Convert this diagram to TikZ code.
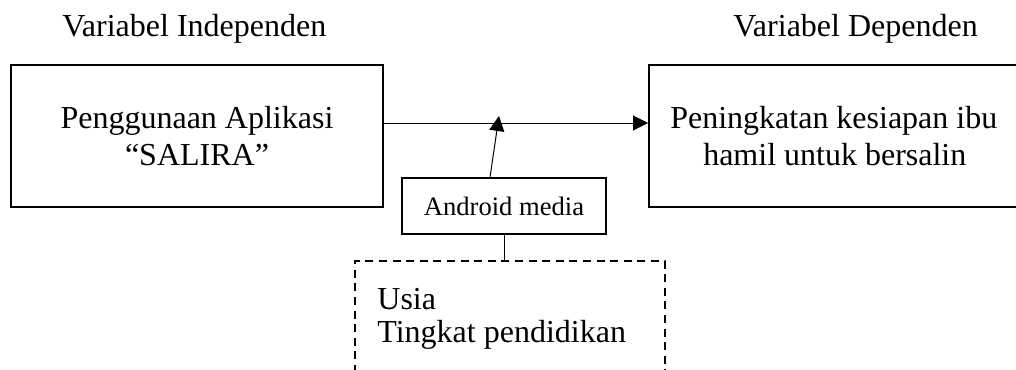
\documentclass[tikz,border=0pt]{standalone}
\usepackage{fontspec}
\setmainfont{Liberation Serif}
\usetikzlibrary{arrows.meta}
\begin{document}
\begin{tikzpicture}[x=0.5pt,y=-0.5pt,
  kotak/.style={draw,line width=0.8pt,inner sep=0pt,align=center,
    font=\fontsize{16}{18.6}\selectfont},
  garis/.style={line width=0.5pt},
  panah/.style={garis,-{Triangle[length=7.5pt,width=7.5pt]}},
  judul/.style={anchor=base west,inner sep=0pt,font=\fontsize{16}{18.6}\selectfont},
  teks/.style={anchor=base west,inner sep=0pt,font=\fontsize{16}{18.6}\selectfont}]
\useasboundingbox (0,0) rectangle (1016,369);
\clip (0,0) rectangle (1016,369);

% column headings
\node[judul] (jIndep) at (62,37) {Variabel Independen};
\node[judul] (jDep) at (733,37) {Variabel Dependen};

% independent and dependent variable boxes
\node[kotak,minimum width=186pt,minimum height=71pt] (kiri) at (197,136)
  {Penggunaan Aplikasi\\“SALIRA”};
\node[kotak,minimum width=186pt,minimum height=71pt,anchor=west] (kanan) at (648,136)
  {\hspace*{-1pt}Peningkatan kesiapan ibu\\hamil untuk bersalin};

% moderating medium
\node[kotak,minimum width=102pt,minimum height=28pt,
  font=\fontsize{13.3}{15.6}\selectfont] (android) at (504,206) {Android media};

% confounding variables (dashed)
\node[draw,dashed,dash pattern=on 4pt off 2.8pt,line width=0.9pt,inner sep=0pt,
  anchor=north west,minimum width=155pt,minimum height=80pt] (luar) at (354,260) {};
\node[teks] (usia) at (377,309) {Usia};
\node[teks] (didik) at (377,342) {Tingkat pendidikan};

% connectors
\draw[panah] ([yshift=6.5pt]kiri.east) -- ([yshift=6.5pt]kanan.west);
\coordinate (ujung) at (499,116);
\draw[panah] ([xshift=-7pt]android.north) -- (ujung);
\draw[garis] (android.south) -- (android.south |- luar.north);
\end{tikzpicture}
\end{document}
